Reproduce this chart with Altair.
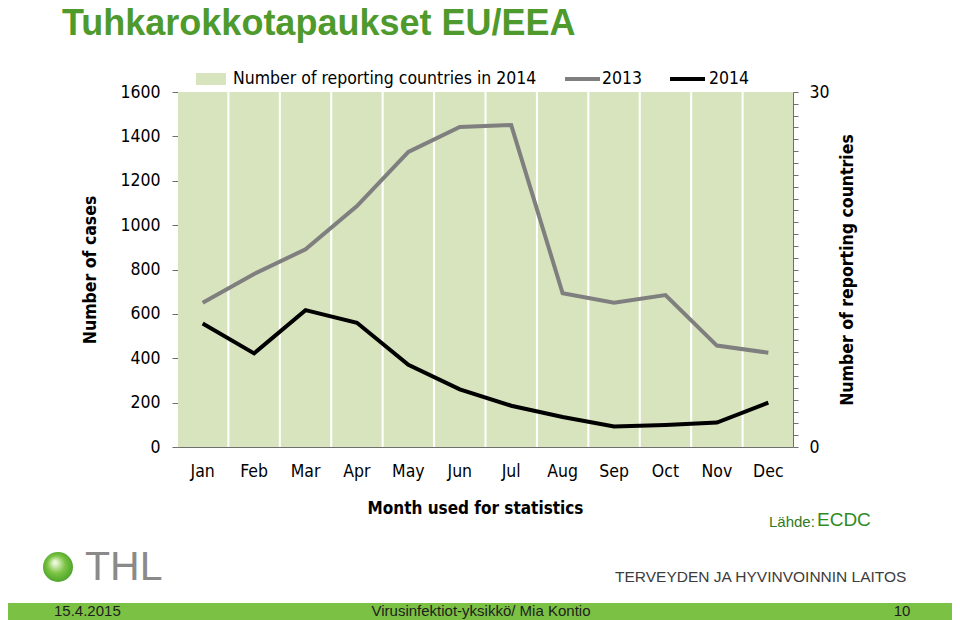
import altair as alt
import pandas as pd

months = ["Jan", "Feb", "Mar", "Apr", "May", "Jun", "Jul", "Aug", "Sep", "Oct", "Nov", "Dec"]
cases_2013 = [650, 780, 891, 1086, 1330, 1442, 1451, 693, 650, 685, 457, 425]
cases_2014 = [557, 422, 617, 560, 370, 260, 186, 135, 92, 99, 110, 200]
countries_2014 = [30, 30, 30, 30, 30, 30, 30, 30, 30, 30, 30, 30]
left_ticks = [0, 200, 400, 600, 800, 1000, 1200, 1400, 1600]

FONT = "DejaVu Sans Condensed"
AXIS_GRAY = "#6f6f6f"
LBL = 17.5

df_bars = pd.DataFrame({"month": months, "countries": countries_2014})
df_lines = pd.DataFrame({
    "month": months * 2,
    "year": ["2013"] * 12 + ["2014"] * 12,
    "cases": cases_2013 + cases_2014,
})
one = pd.DataFrame({"a": [0]})

x_enc = alt.X(
    "month:N", sort=months,
    scale=alt.Scale(paddingInner=0.04, paddingOuter=0),
    axis=alt.Axis(title="Month used for statistics", labelAngle=0, ticks=False,
                  labelPadding=15, titlePadding=21, titleX=297,
                  domainColor=AXIS_GRAY, labelColor="#000000", labelFontSize=LBL,
                  labelFont=FONT, titleFont=FONT, titleFontSize=17, titleFontWeight="bold",
                  titleColor="#000000"),
)

bars = alt.Chart(df_bars).mark_bar(color="#d7e4bd").encode(
    x=x_enc,
    y=alt.Y("countries:Q", scale=alt.Scale(domain=[0, 30], nice=False),
            axis=alt.Axis(orient="right", values=list(range(31)),
                          labelExpr="datum.value == 0 || datum.value == 30 ? datum.label : ''",
                          labelOverlap=False, grid=False, tickSize=5, labelPadding=11,
                          title="Number of reporting countries", titleAngle=270,
                          titleBaseline="top", titlePadding=9,
                          domainColor=AXIS_GRAY, tickColor=AXIS_GRAY, labelColor="#000000",
                          labelFont=FONT, labelFontSize=LBL, titleFont=FONT, titleFontSize=17.5,
                          titleFontWeight="bold", titleColor="#000000")),
)

lines = alt.Chart(df_lines).mark_line(strokeWidth=4).encode(
    x=alt.X("month:N", sort=months),
    y=alt.Y("cases:Q", scale=alt.Scale(domain=[0, 1600], nice=False),
            axis=alt.Axis(orient="left", values=left_ticks, format="d", grid=False, tickSize=6,
                          labelPadding=12, title="Number of cases", titlePadding=20,
                          domainColor=AXIS_GRAY, tickColor=AXIS_GRAY, labelColor="#000000",
                          labelFont=FONT, labelFontSize=LBL, titleFont=FONT, titleFontSize=17.5,
                          titleFontWeight="bold", titleColor="#000000")),
    color=alt.Color("year:N", scale=alt.Scale(domain=["2013", "2014"], range=["#7f7f7f", "#000000"]),
                    legend=None),
)


def txt(text, x, y, size, color="#000000", font=FONT, weight="normal", align="left", baseline="middle"):
    return alt.Chart(one).mark_text(
        text=text, font=font, fontSize=size, color=color, fontWeight=weight,
        align=align, baseline=baseline,
    ).encode(x=alt.value(x), y=alt.value(y))


# legend (manual)
leg_swatch = alt.Chart(one).mark_rect(color="#d7e4bd").encode(
    x=alt.value(18), x2=alt.value(48), y=alt.value(-19), y2=alt.value(-7))
leg_2013 = alt.Chart(one).mark_rule(color="#7f7f7f", strokeWidth=4).encode(
    x=alt.value(387), x2=alt.value(422), y=alt.value(-13))
leg_2014 = alt.Chart(one).mark_rule(color="#000000", strokeWidth=4).encode(
    x=alt.value(492), x2=alt.value(527), y=alt.value(-13))
leg_t1 = txt("Number of reporting countries in 2014", 55, -13, LBL)
leg_t2 = txt("2013", 424, -13, LBL)
leg_t3 = txt("2014", 531, -13, LBL)

title = txt("Tuhkarokkotapaukset EU/EEA", -116, -57, 36, color="#4e9a2c",
            font="Liberation Sans", weight="bold", baseline="alphabetic")

source1 = txt("Lähde:", 591, 430, 15, color="#2f7a1f", font="Liberation Sans")
source2 = txt("ECDC", 639, 428, 19, color="#2f8a1f", font="Liberation Sans")

# THL logo
sphere = alt.Chart(one).mark_circle(
    size=900, opacity=1,
    color=alt.Gradient(gradient="radial", x1=0.4, y1=0.35, x2=0.5, y2=0.5, r1=0.05, r2=0.6,
                       stops=[alt.GradientStop(color="#e9f7d8", offset=0),
                              alt.GradientStop(color="#7cc443", offset=0.45),
                              alt.GradientStop(color="#3c9a22", offset=1)]),
).encode(x=alt.value(-120), y=alt.value(475))
thl = txt("THL", -93, 476, 41, color="#8a8a8a", font="Liberation Sans")
laitos = txt("TERVEYDEN JA HYVINVOINNIN LAITOS", 437, 485, 15.5, color="#3c3c3c",
             font="Liberation Sans")

# footer band
FOOT_FONT = "Liberation Sans"
footer = alt.Chart(one).mark_rect(color="#7bc143").encode(
    x=alt.value(-170), x2=alt.value(774), y=alt.value(511), y2=alt.value(528))
f1 = txt("15.4.2015", -124, 519, 15, color="#1e1e1e", font=FOOT_FONT)
f2 = txt("Virusinfektiot-yksikkö/ Mia Kontio", 303, 519, 15, color="#1e1e1e",
         font=FOOT_FONT, align="center")
f3 = txt("10", 724, 519, 15, color="#1e1e1e", font=FOOT_FONT, align="center")

chart = alt.layer(
    bars, lines,
    leg_swatch, leg_2013, leg_2014, leg_t1, leg_t2, leg_t3,
    title, source1, source2, sphere, thl, laitos, footer, f1, f2, f3,
).resolve_scale(y="independent").properties(
    width=615, height=355,
    autosize=alt.AutoSizeParams(type="none"),
    padding={"left": 170, "top": 84, "right": 159, "bottom": 173},
    background="#ffffff",
).configure_view(stroke=None)

chart.save("out.html", embed_options={"renderer": "svg", "actions": False})
